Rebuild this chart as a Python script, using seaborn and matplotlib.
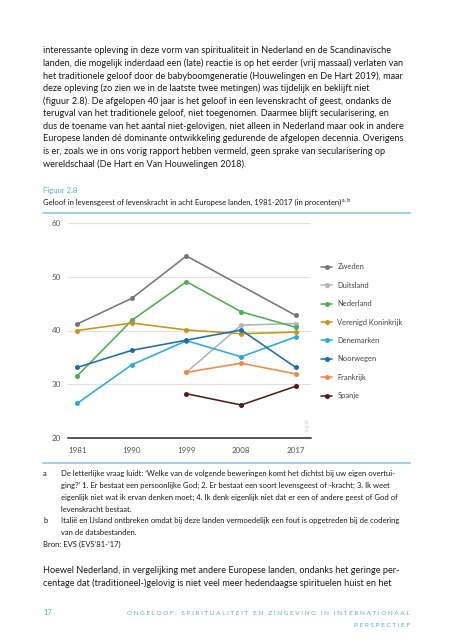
import numpy as np
import pandas as pd
import matplotlib
matplotlib.use("Agg")
import matplotlib.pyplot as plt
import seaborn as sns

years = [1981, 1990, 1999, 2008, 2017]
zweden = [41.2, 46.0, 53.9, None, 42.8]
duitsland = [None, None, 32.2, 41.0, 41.3]
nederland = [31.5, 41.9, 49.1, 43.5, 40.6]
verenigd_koninkrijk = [40.0, 41.4, 40.1, 39.4, 39.7]
denemarken = [26.4, 33.6, 38.1, 35.1, 38.8]
noorwegen = [33.1, 36.3, 38.2, 40.1, 33.1]
frankrijk = [None, None, 32.2, 33.9, 31.9]
spanje = [None, None, 28.2, 26.1, 29.6]

countries = ["Zweden", "Duitsland", "Nederland", "Verenigd Koninkrijk",
             "Denemarken", "Noorwegen", "Frankrijk", "Spanje"]
series = [zweden, duitsland, nederland, verenigd_koninkrijk,
          denemarken, noorwegen, frankrijk, spanje]
colors = ["#767676", "#b4b4b4", "#4cae4f", "#c6951f",
          "#2aa9df", "#1d6ea8", "#ee8a46", "#4a2119"]
y_ticks = [20, 30, 40, 50, 60]

rows = []
for c, vals in zip(countries, series):
    for yr, v in zip(years, vals):
        if v is not None:
            rows.append({"jaar": yr, "procent": v, "land": c})
df = pd.DataFrame(rows)

sns.set_theme(style="white")
FONT = "Lato"
plt.rcParams["font.family"] = [FONT, "DejaVu Sans"]

W, H = 453, 640
fig = plt.figure(figsize=(W / 100, H / 100), dpi=100)


def fx(px):
    return px / W


def fy(py):
    return 1 - py / H


TXT = "#1a1a1a"
BODY = 6.6

body1 = [
    "interessante opleving in deze vorm van spiritualiteit in Nederland en de Scandinavische",
    "landen, die mogelijk inderdaad een (late) reactie is op het eerder (vrij massaal) verlaten van",
    "het traditionele geloof door de babyboomgeneratie (Houwelingen en De Hart 2019), maar",
    "deze opleving (zo zien we in de laatste twee metingen) was tijdelijk en beklijft niet",
    "(figuur 2.8). De afgelopen 40 jaar is het geloof in een levenskracht of geest, ondanks de",
    "terugval van het traditionele geloof, niet toegenomen. Daarmee blijft secularisering, en",
    "dus de toename van het aantal niet-gelovigen, niet alleen in Nederland maar ook in andere",
    "Europese landen dé dominante ontwikkeling gedurende de afgelopen decennia. Overigens",
    "is er, zoals we in ons vorig rapport hebben vermeld, geen sprake van secularisering op",
    "wereldschaal (De Hart en Van Houwelingen 2018).",
]
y0 = 50.7
for i, line in enumerate(body1):
    fig.text(fx(43), fy(y0 + i * 12.6), line, fontsize=BODY, color=TXT,
             va="center", ha="left")

fig.text(fx(43), fy(190.7), "Figuur 2.8", fontsize=5.6, color="#5bb3d3",
         va="center", ha="left")
title = fig.text(fx(43), fy(202.3),
                 "Geloof in levensgeest of levenskracht in acht Europese landen, 1981-2017 (in procenten)",
                 fontsize=5.5, color=TXT, va="center", ha="left")
fig.canvas.draw()
bb = title.get_window_extent(fig.canvas.get_renderer())
fig.text(bb.x1 / W + 0.002, fy(200.0), "a, b", fontsize=3.8, color=TXT,
         va="center", ha="left")

# blue rules
for yy in (212.7, 462.7):
    fig.add_artist(plt.Line2D([fx(43), fx(410)], [fy(yy), fy(yy)],
                              color="#8cc8dc", lw=1.2))

ax = fig.add_axes([fx(68), fy(437.7), fx(311 - 68), (437.7 - 223.3) / H])
sns.lineplot(data=df, x="jaar", y="procent", hue="land", hue_order=countries,
             palette=colors, marker="o", markersize=3.6, markeredgewidth=0,
             linewidth=1.15, ax=ax, legend=True, sort=True)
ax.set_xlim(1979.5, 2019.5)
ax.set_ylim(20, 60)
ax.set_yticks(y_ticks)
ax.set_xticks(years)
ax.set_xticklabels([str(y) for y in years])
ax.set_xlabel("")
ax.set_ylabel("")
for s in ["top", "right", "left", "bottom"]:
    ax.spines[s].set_visible(False)
for t in y_ticks[1:]:
    ax.axhline(t, color="#e0e0e0", lw=0.8, zorder=0)
ax.axhline(20, color="#555555", lw=1.4, zorder=1, clip_on=False)
ax.tick_params(axis="both", length=0, labelsize=5.8, colors="#555555")
ax.tick_params(axis="y", pad=5)
ax.tick_params(axis="x", pad=7)
ax.set_facecolor("none")
ax.patch.set_alpha(0)

handles, labels = ax.get_legend_handles_labels()
ax.get_legend().remove()
ax_w = 311 - 68
ax_h = 437.7 - 223.3
leg = ax.legend(handles, labels, loc="upper left",
                bbox_to_anchor=((321 - 68) / ax_w, 1 - (263.5 - 223.3) / ax_h),
                frameon=False, fontsize=5.4, handlelength=1.5, handletextpad=0.68,
                labelspacing=1.52, borderaxespad=0, borderpad=0)
for t in leg.get_texts():
    t.set_color("#444444")

fig.text(fx(307), fy(425), "scp.nl", fontsize=3.6, color="#c8c8c8",
         rotation=90, va="center", ha="center")

FN = 5.5
fig.text(fx(43), fy(473.3), "a", fontsize=FN, color=TXT, va="center")
fig.text(fx(43), fy(520.7), "b", fontsize=FN, color=TXT, va="center")
fn_lines = [
    (473.3, "De letterlijke vraag luidt: ‘Welke van de volgende beweringen komt het dichtst bij uw eigen overtui-"),
    (485.3, "ging?’ 1. Er bestaat een persoonlijke God; 2. Er bestaat een soort levensgeest of -kracht; 3. Ik weet"),
    (497.5, "eigenlijk niet wat ik ervan denken moet; 4. Ik denk eigenlijk niet dat er een of andere geest of God of"),
    (509.2, "levenskracht bestaat."),
    (520.7, "Italië en IJsland ontbreken omdat bij deze landen vermoedelijk een fout is opgetreden bij de codering"),
    (532.3, "van de databestanden."),
]
for yy, line in fn_lines:
    fig.text(fx(61), fy(yy), line, fontsize=FN, color=TXT, va="center")
fig.text(fx(43), fy(544.7), "Bron: EVS (EVS’81-’17)", fontsize=FN, color=TXT, va="center")

fig.text(fx(43), fy(570.7),
         "Hoewel Nederland, in vergelijking met andere Europese landen, ondanks het geringe per-",
         fontsize=BODY, color=TXT, va="center")
fig.text(fx(43), fy(583),
         "centage dat (traditioneel-)gelovig is niet veel meer hedendaagse spirituelen huist en het",
         fontsize=BODY, color=TXT, va="center")

FOOT = "#5aaec2"
fig.text(fx(43), fy(612.3), "17", fontsize=5.4, color=FOOT, va="center")

fig.text(fx(410), fy(612.3), " ".join(list("ONGELOOF,")) + "   " +
         "   ".join(" ".join(list(w)) for w in "SPIRITUALITEIT EN ZINGEVING IN INTERNATIONAAL".split()),
         fontsize=4.6, color=FOOT, va="center", ha="right")
fig.text(fx(410), fy(625.7), " ".join(list("PERSPECTIEF")), fontsize=4.6,
         color=FOOT, va="center", ha="right")

fig.savefig("out.png", dpi=100)
